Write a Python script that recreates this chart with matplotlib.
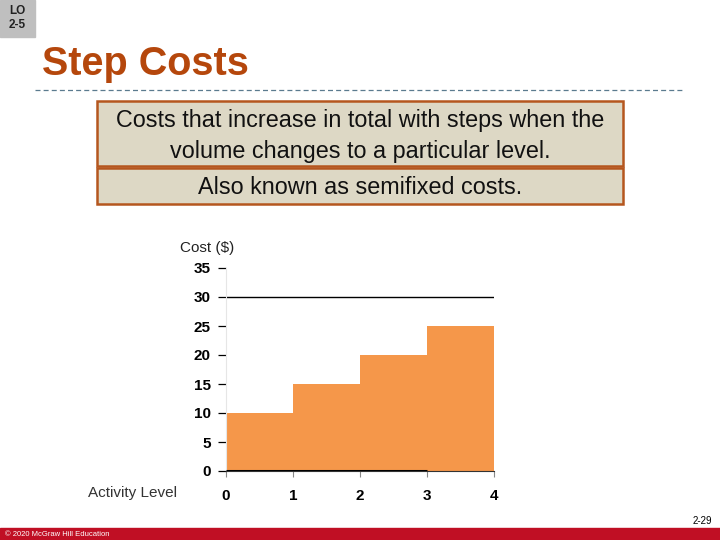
import matplotlib.pyplot as plt
from matplotlib.patches import Rectangle

# step cost data
activity = [0, 1, 2, 3]
cost = [10, 15, 20, 25]
x_ticks = [0, 1, 2, 3, 4]
y_ticks = [0, 5, 10, 15, 20, 25, 30, 35]

plt.rcParams['font.family'] = ['Liberation Sans', 'DejaVu Sans']

fig = plt.figure(figsize=(7.2, 5.4), dpi=100, facecolor='w')

def px(x, y, w, h):
    # pixel box (top-left origin) -> figure fraction
    return [x / 720, 1 - (y + h) / 540, w / 720, h / 540]

# LO tag
fig.patches.append(Rectangle((0, 1 - 37 / 540), 35 / 720, 37 / 540,
                             transform=fig.transFigure, color='#BFBFBF'))
fig.text(17 / 720, 1 - 18 / 540, 'LO\n2-5', ha='center', va='center',
         fontsize=8.5, fontweight='bold', linespacing=1.3, color='#222222')

# title
fig.text(42 / 720, 1 - 64 / 540, 'Step Costs', ha='left', va='center',
         fontsize=28.5, fontweight='bold', color='#B5470C')
fig.lines.append(plt.Line2D([35 / 720, 685 / 720], [1 - 90 / 540] * 2,
                            transform=fig.transFigure, color='#5B7B8F',
                            lw=0.9, ls=(0, (4, 2.5))))

# definition boxes
for (y, h) in [(101, 65), (168, 36)]:
    b = px(97, y, 526, h)
    fig.patches.append(Rectangle((b[0], b[1]), b[2], b[3], transform=fig.transFigure,
                                 facecolor='#DDD8C5', edgecolor='#B5561E', lw=1.8))
fig.text(360 / 720, 1 - 136 / 540,
         'Costs that increase in total with steps when the\nvolume changes to a particular level.',
         ha='center', va='center', fontsize=16.8, linespacing=1.48, color='#111111')
fig.text(360 / 720, 1 - 187 / 540, 'Also known as semifixed costs.',
         ha='center', va='center', fontsize=16.8, color='#111111')

# chart
ax = fig.add_axes(px(226, 268, 268, 203))
ax.bar(activity, cost, width=1, align='edge', color='#F5974A', edgecolor='none', zorder=1)
ax.axhline(30, color='k', lw=1.0, zorder=2)
ax.hlines(0, 0, 3, color='k', lw=2.2, zorder=3)
ax.set_xlim(0, 4)
ax.set_ylim(0, 35)
ax.set_xticks(x_ticks)
ax.set_yticks(y_ticks)
for s in ['top', 'right']:
    ax.spines[s].set_visible(False)
ax.spines['left'].set_color('#E6E6E6')
ax.spines['left'].set_linewidth(0.8)
ax.spines['bottom'].set_color('#333333')
ax.spines['bottom'].set_linewidth(0.8)
ax.tick_params(axis='y', length=6, width=0.9, color='k', pad=5,
               labelsize=11)
ax.tick_params(axis='x', length=4, width=0.8, color='#888888', pad=9,
               labelsize=11)
for lab in ax.get_xticklabels() + ax.get_yticklabels():
    lab.set_fontweight('bold')
ax.set_facecolor('none')

fig.text(207 / 720, 1 - 248 / 540, 'Cost ($)', ha='center', va='center',
         fontsize=11, color='#222222')
fig.text(132 / 720, 1 - 493 / 540, 'Activity Level', ha='center', va='center',
         fontsize=11, color='#333333')

# footer
fig.patches.append(Rectangle((0, 0), 1, 12 / 540, transform=fig.transFigure,
                             color='#C00F24'))
fig.text(5 / 720, 5 / 540, '\u00a9 2020 McGraw Hill Education', ha='left', va='center',
         fontsize=5.5, color='w')
fig.text(712 / 720, 1 - 521 / 540, '2-29', ha='right', va='center', fontsize=7)

fig.savefig('out.png', dpi=100)
